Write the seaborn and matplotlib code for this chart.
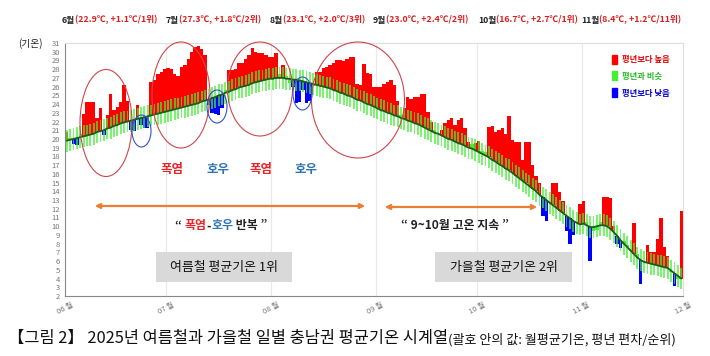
"""
Daily mean temperature of the Chungnam region, summer and autumn 2025.
"""

import matplotlib

matplotlib.use("Agg")
import matplotlib.pyplot as plt
import numpy as np
import pandas as pd
import seaborn as sns
from matplotlib.patches import Ellipse, FancyArrowPatch, Patch, Rectangle

# daily normal (평년) mean temperature, deg C
normal_jun = [19.8, 19.9, 20.0, 20.1, 20.2, 20.3, 20.4, 20.5, 20.6, 20.8,
              20.9, 21.0, 21.2, 21.3, 21.5, 21.6, 21.8, 21.9, 22.0, 22.1,
              22.2, 22.3, 22.4, 22.5, 22.6, 22.7, 22.8, 22.9, 23.0, 23.1]
normal_jul = [23.2, 23.3, 23.4, 23.5, 23.6, 23.7, 23.8, 23.9, 24.0, 24.1,
              24.3, 24.4, 24.5, 24.7, 24.8, 25.0, 25.1, 25.3, 25.4, 25.6,
              25.7, 25.9, 26.0, 26.1, 26.2, 26.4, 26.5, 26.6, 26.7, 26.8, 26.9]
normal_aug = [26.9, 27.0, 27.0, 27.0, 26.9, 26.9, 26.8, 26.8, 26.7, 26.6,
              26.5, 26.4, 26.3, 26.2, 26.1, 26.0, 25.9, 25.8, 25.6, 25.5,
              25.3, 25.2, 25.0, 24.9, 24.7, 24.5, 24.4, 24.2, 24.0, 23.9, 23.7]
normal_sep = [23.5, 23.3, 23.2, 23.0, 22.9, 22.7, 22.6, 22.4, 22.3, 22.1,
              22.0, 21.8, 21.7, 21.5, 21.3, 21.1, 20.9, 20.7, 20.6, 20.4,
              20.2, 20.0, 19.9, 19.7, 19.5, 19.4, 19.2, 19.0, 18.9, 18.7]
normal_oct = [18.5, 18.3, 18.1, 17.9, 17.6, 17.4, 17.1, 16.9, 16.6, 16.4,
              16.1, 15.8, 15.5, 15.2, 14.9, 14.6, 14.3, 14.0, 13.6, 13.3,
              13.0, 12.7, 12.4, 12.1, 11.8, 11.5, 11.2, 10.9, 10.6, 10.4, 10.2]
normal_nov = [10.3, 10.1, 9.9, 9.9, 10.0, 10.1, 10.1, 10.0, 9.7, 9.3,
              8.9, 8.4, 8.0, 7.6, 7.2, 6.8, 6.4, 6.1, 5.9, 5.8,
              5.7, 5.6, 5.5, 5.4, 5.3, 5.2, 4.9, 4.6, 4.3, 4.0]

# observed daily mean temperature 2025, deg C
obs_jun = [20.8, 20.1, 19.4, 19.3, 20.6, 22.9, 24.2, 24.2, 24.2, 22.4,
           23.5, 20.4, 22.7, 25.2, 23.3, 23.7, 24.2, 26.2, 24.4, 21.0,
           20.9, 23.9, 21.6, 21.2, 21.2, 26.5, 26.8, 27.5, 27.7, 28.0]
obs_jul = [28.1, 28.0, 27.5, 27.2, 28.3, 28.5, 29.2, 30.0, 30.5, 30.6,
           30.3, 29.6, 23.9, 23.0, 22.9, 22.7, 23.6, 25.6, 27.9, 27.9,
           28.0, 28.7, 28.7, 29.2, 29.6, 30.4, 30.0, 29.8, 29.8, 29.6, 29.4]
obs_aug = [29.4, 29.8, 27.4, 28.5, 27.2, 26.4, 25.9, 24.1, 24.2, 25.6,
           24.1, 24.3, 26.1, 27.7, 27.7, 28.1, 28.3, 28.5, 28.7, 29.0,
           29.0, 28.9, 29.2, 29.4, 29.4, 26.3, 26.2, 28.6, 27.6, 27.4, 25.9]
obs_sep = [26.0, 26.0, 26.3, 26.5, 26.8, 26.2, 24.3, 22.8, 23.5, 24.8,
           24.6, 24.8, 24.8, 25.2, 25.2, 23.1, 21.9, 21.0, 20.6, 21.0,
           21.8, 22.2, 22.4, 21.6, 22.2, 22.4, 21.2, 19.6, 19.4, 19.5]
obs_oct = [19.8, 18.6, 18.5, 21.4, 21.5, 20.8, 21.0, 21.3, 20.6, 22.6,
           19.9, 19.6, 19.6, 17.6, 19.7, 19.6, 17.0, 15.8, 15.0, 11.2,
           10.6, 12.8, 15.0, 14.9, 13.9, 12.9, 9.5, 8.0, 9.0, 10.5, 12.6]
obs_nov = [12.9, 10.5, 6.0, 9.5, 9.6, 10.5, 13.3, 13.3, 13.2, 10.0,
           8.0, 7.5, 8.3, 7.9, 7.4, 10.4, 6.8, 3.4, 6.0, 7.8,
           7.0, 7.0, 8.5, 10.9, 7.6, 6.6, 4.8, 3.2, 4.0, 11.8]

month_starts = [0, 30, 61, 92, 122, 153, 183]
month_tick_labels = ["06 월", "07 월", "08 월", "09 월", "10 월", "11 월", "12 월"]
month_names = ["6월", "7월", "8월", "9월", "10월", "11월"]
month_stats = ["(22.9℃, +1.1℃/1위)", "(27.3℃, +1.8℃/2위)", "(23.1℃, +2.0℃/3위)",
               "(23.0℃, +2.4℃/2위)", "(16.7℃, +2.7℃/1위)", "(8.4℃, +1.2℃/11위)"]
legend_labels = ["평년보다 높음", "평년과 비슷", "평년보다 낮음"]
normal_band = 1.25     # half width of the "similar to normal" range
class_threshold = 0.5  # anomaly beyond which a day counts as high / low

W, H = 710, 356


def fx(x):
    return x / W


def fy(y):
    return 1 - y / H


sns.set_style("white")
plt.rcParams["font.family"] = ["Noto Sans CJK KR", "DejaVu Sans"]

normal = normal_jun + normal_jul + normal_aug + normal_sep + normal_oct + normal_nov
obs = obs_jun + obs_jul + obs_aug + obs_sep + obs_oct + obs_nov
df = pd.DataFrame({"day": np.arange(len(normal)) + 0.5, "normal": normal, "obs": obs})
df["anom"] = df["obs"] - df["normal"]
df["cls"] = np.where(df["anom"] > class_threshold, "high",
                     np.where(df["anom"] < -class_threshold, "low", "mid"))
bar_colors = {"high": "#ff0000", "mid": "#44ee33", "low": "#0000ff"}

fig = plt.figure(figsize=(W / 100, H / 100), dpi=100)
ax = fig.add_axes([fx(65), fy(296), (683 - 65) / W, (296 - 43) / H])

ax.bar(df["day"], df["anom"], bottom=df["normal"], width=1.0,
       color=df["cls"].map(bar_colors), linewidth=0, zorder=2)
ax.bar(df["day"], 2 * normal_band, bottom=df["normal"] - normal_band, width=0.55,
       color="#44ee33", alpha=0.7, linewidth=0, zorder=3)
sns.lineplot(data=df, x="day", y="normal", ax=ax, color="#1d5a1d", lw=1.3, zorder=4)

ax.set_xlim(0, 183)
ax.set_ylim(2, 31)
ax.set_yticks(range(2, 32))
ax.set_xticks(month_starts)
ax.set_xticklabels(month_tick_labels, rotation=28, ha="center")
ax.set_xlabel("")
ax.set_ylabel("")
ax.tick_params(axis="both", labelsize=5.5, colors="#777777", length=2.5, width=0.6, pad=1)
ax.grid(True, axis="x", color="#e8e8e8", lw=0.8)
ax.set_axisbelow(True)
for side in ["left", "bottom"]:
    ax.spines[side].set_color("#888888")
    ax.spines[side].set_linewidth(0.8)
for side in ["top", "right"]:
    ax.spines[side].set_color("#dddddd")
    ax.spines[side].set_linewidth(0.8)

handles = [Patch(color=bar_colors[k]) for k in ["high", "mid", "low"]]
ax.legend(handles, legend_labels, loc="upper left", bbox_to_anchor=(fx(604), fy(47)),
          bbox_transform=fig.transFigure, frameon=False,
          labelcolor=["#e00000", "#22bb22", "#0000cc"], handlelength=0.6,
          handleheight=1.3, handletextpad=0.7, labelspacing=0.9,
          prop={"weight": "bold", "size": 6})


def text_run(x, y, parts, size, weight="bold"):
    """Write coloured pieces of text one after another."""
    t = fig.text(fx(x), fy(y), parts[0][0], color=parts[0][1], fontsize=size,
                 fontweight=weight, ha="left", va="center")
    for s, c, *rest in parts[1:]:
        sz = rest[0] if rest else size
        t = ax.annotate(s, xy=(1, 0), xycoords=t, color=c, fontsize=sz,
                        fontweight=weight, ha="left", va="bottom")
    return t


# month headers
header_x = [62, 166, 270, 373, 478, 581]
for x, name, stat in zip(header_x, month_names, month_stats):
    text_run(x, 20, [(name, "#222222"), (stat, "#d81e1e")], 6.3)

fig.text(fx(18), fy(44), "(기온)", fontsize=7, color="#222222", va="center")

# circled events
red_ellipses = [(106, 123, 52, 107), (181, 95, 58, 106), (260, 89, 65, 94), (358, 100, 93, 116)]
blue_ellipses = [(141.5, 131, 19, 32), (217, 106.5, 20, 33), (302.5, 93.5, 19, 33)]
for cx, cy, w, h in red_ellipses:
    fig.add_artist(Ellipse((fx(cx), fy(cy)), w / W, h / H, transform=fig.transFigure,
                           fill=False, ec="#d0454a", lw=0.8, zorder=6))
for cx, cy, w, h in blue_ellipses:
    fig.add_artist(Ellipse((fx(cx), fy(cy)), w / W, h / H, transform=fig.transFigure,
                           fill=False, ec="#3350c8", lw=0.8, zorder=6))

heat, rain = "#e8262a", "#2e74b5"
for x, s, c in [(172, "폭염", heat), (218, "호우", rain), (261, "폭염", heat), (306, "호우", rain)]:
    fig.text(fx(x), fy(170), s, color=c, fontsize=9, fontweight="bold", ha="center", va="center")

# arrows and their captions
for x0, x1, y in [(92, 368, 206), (382, 540, 207)]:
    fig.add_artist(FancyArrowPatch((fx(x0), fy(y)), (fx(x1), fy(y)), transform=fig.transFigure,
                                   arrowstyle="<|-|>", mutation_scale=7, color="#ed7d31",
                                   lw=1.6, zorder=6))
text_run(175, 226, [("“ ", "#222222"), ("폭염", heat), ("-", "#222222"), ("호우", rain),
                    (" 반복 ”", "#222222")], 8.6)
fig.text(fx(455), fy(226), "“ 9~10월 고온 지속 ”", fontsize=8.6, fontweight="bold",
         color="#222222", ha="center", va="center")

# season boxes
for x0, x1, s in [(156, 292, "여름철 평균기온 1위"), (435, 572, "가을철 평균기온 2위")]:
    fig.add_artist(Rectangle((fx(x0), fy(282)), (x1 - x0) / W, 30 / H, transform=fig.transFigure,
                             fc="#d9d9d9", ec="none", zorder=5))
    fig.text(fx((x0 + x1) / 2), fy(267), s, fontsize=9.3, color="#111111", ha="center",
             va="center", zorder=7)

# figure caption
text_run(8, 338, [("【그림 2】 2025년 여름철과 가을철 일별 충남권 평균기온 시계열", "#111111"),
                  ("(괄호 안의 값: 월평균기온, 평년 편차/순위)", "#111111", 9.4)],
         11.8, weight="normal")

fig.savefig("out.png", dpi=100)
plt.close(fig)
